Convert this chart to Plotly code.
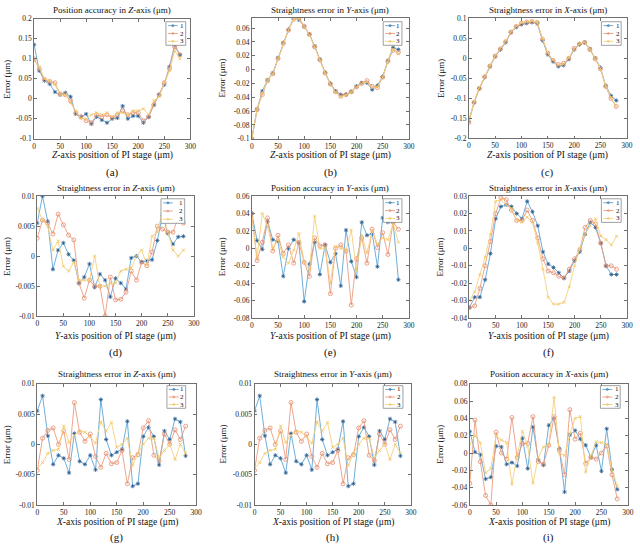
import plotly.graph_objects as go

# ---------------- data ----------------
pos = list(range(0, 290, 10))

# (a) Position accuracy in Z-axis
a1 = [0.135, 0.07, 0.045, 0.037, 0.017, 0.01, 0.015, 0.005, -0.038, -0.045, -0.038, -0.063, -0.045, -0.053, -0.06,
      -0.05, -0.048, -0.018, -0.05, -0.043, -0.043, -0.06, -0.045, -0.015, 0.01, 0.035, 0.08, 0.135, 0.11]
a2 = [0.10, 0.075, 0.048, 0.043, 0.04, 0.012, 0.01, -0.005, -0.035, -0.045, -0.055, -0.06, -0.04, -0.045, -0.04,
      -0.048, -0.04, -0.03, -0.04, -0.035, -0.035, -0.055, -0.045, -0.015, 0.01, 0.04, 0.075, 0.13, 0.11]
a3 = [0.095, 0.08, 0.05, 0.045, 0.035, 0.01, 0.01, -0.01, -0.03, -0.05, -0.05, -0.04, -0.035, -0.04, -0.035,
      -0.045, -0.035, -0.035, -0.04, -0.03, -0.03, -0.025, -0.04, -0.005, 0.005, 0.04, 0.07, 0.12, 0.10]

# (b) Straightness error in Y-axis (Z travel)
b1 = [-0.1, -0.057, -0.031, -0.015, -0.005, 0.017, 0.039, 0.058, 0.075, 0.072, 0.062, 0.051, 0.034, 0.015, -0.004,
      -0.02, -0.031, -0.036, -0.036, -0.032, -0.024, -0.019, -0.019, -0.029, -0.023, -0.01, 0.013, 0.032, 0.029]
b2 = [-0.1, -0.058, -0.036, -0.016, -0.006, 0.016, 0.038, 0.057, 0.073, 0.075, 0.063, 0.051, 0.033, 0.014, -0.005,
      -0.021, -0.032, -0.038, -0.036, -0.032, -0.025, -0.02, -0.016, -0.024, -0.026, -0.011, 0.012, 0.028, 0.025]
b3 = [-0.1, -0.057, -0.034, -0.015, -0.006, 0.016, 0.038, 0.057, 0.074, 0.073, 0.062, 0.05, 0.033, 0.014, -0.005,
      -0.021, -0.033, -0.04, -0.037, -0.033, -0.025, -0.02, -0.018, -0.026, -0.025, -0.011, 0.012, 0.03, 0.023]

# (c) Straightness error in X-axis (Z travel)
c1 = [-0.157, -0.11, -0.075, -0.047, -0.02, 0.005, 0.022, 0.04, 0.065, 0.078, 0.085, 0.088, 0.09, 0.087, 0.045,
      0.01, -0.008, -0.02, -0.017, -0.002, 0.022, 0.035, 0.04, 0.024, 0.001, -0.023, -0.068, -0.093, -0.105]
c2 = [-0.16, -0.11, -0.075, -0.046, -0.019, 0.006, 0.024, 0.042, 0.066, 0.08, 0.088, 0.091, 0.092, 0.09, 0.048,
      0.013, -0.005, -0.015, -0.012, 0.0, 0.025, 0.036, 0.04, 0.022, -0.001, -0.026, -0.07, -0.1, -0.12]
c3 = [-0.158, -0.108, -0.073, -0.045, -0.018, 0.007, 0.025, 0.043, 0.067, 0.08, 0.089, 0.092, 0.093, 0.09, 0.05,
      0.014, -0.004, -0.016, -0.014, 0.001, 0.024, 0.036, 0.041, 0.023, 0.0, -0.025, -0.069, -0.098, -0.12]

# (d) Straightness error in Z-axis (Y travel)
d1 = [0.0055, 0.01, 0.0058, -0.0022, 0.001, 0.0022, 0.0003, -0.0007, -0.0045, -0.0035, -0.0013, -0.0052, -0.003,
      -0.004, -0.0068, -0.0037, -0.0045, -0.0055, -0.0003, 0.0, -0.001, -0.0008, -0.0006, 0.0026, 0.0068, 0.0038,
      0.002, 0.0032, 0.0033]
d2 = [0.003, 0.006, 0.0055, 0.0037, 0.007, 0.0052, 0.0035, 0.0027, -0.0045, -0.007, -0.004, -0.005, -0.005, -0.01,
      -0.0035, -0.0073, -0.0072, -0.006, -0.0025, -0.004, -0.001, -0.0016, 0.0007, 0.005, 0.0045, 0.004, 0.004,
      0.0065, 0.0055]
d3 = [0.008, 0.006, 0.005, 0.001, 0.0025, -0.0017, -0.0025, -0.001, -0.004, -0.004, -0.004, 0.0, -0.005, -0.005,
      -0.0045, -0.0045, -0.0025, -0.0022, -0.002, 0.0, 0.001, -0.0015, 0.0033, 0.004, 0.0075, 0.004, 0.001, 0.0,
      0.001]

# (e) Position accuracy in Y-axis
e1 = [0.04, 0.009, -0.001, 0.031, 0.01, 0.008, -0.032, 0.0, 0.01, 0.006, -0.061, -0.018, 0.007, -0.03, 0.004,
      -0.016, -0.006, -0.043, 0.021, -0.015, -0.033, 0.03, 0.015, 0.017, -0.021, 0.035, 0.03, 0.03, -0.036]
e2 = [0.04, -0.014, 0.007, 0.035, -0.003, 0.015, -0.006, 0.004, -0.017, 0.007, -0.016, -0.032, 0.012, 0.003, 0.004,
      -0.052, 0.0, 0.004, -0.003, -0.065, -0.012, 0.012, -0.017, 0.022, 0.001, 0.018, -0.007, 0.03, 0.022]
e3 = [0.035, -0.01, 0.04, 0.025, 0.0, 0.01, -0.01, -0.017, -0.002, 0.017, -0.015, -0.025, 0.037, 0.0, 0.0, -0.04,
      0.002, 0.0, -0.002, 0.021, -0.025, 0.015, -0.005, 0.02, 0.005, 0.012, 0.01, 0.028, 0.007]

# (f) Straightness error in X-axis (Y travel)
f1 = [-0.034, -0.028, -0.028, -0.018, -0.003, 0.017, 0.024, 0.025, 0.024, 0.02, 0.017, 0.027, 0.021, 0.013, -0.002,
      -0.009, -0.011, -0.014, -0.017, -0.013, -0.007, -0.002, 0.008, 0.015, 0.012, 0.003, -0.01, -0.015, -0.015]
f2 = [-0.034, -0.033, -0.023, -0.01, 0.004, 0.02, 0.029, 0.028, 0.022, 0.016, 0.016, 0.022, 0.016, 0.006, -0.006,
      -0.013, -0.014, -0.016, -0.017, -0.012, -0.006, -0.001, 0.012, 0.016, 0.014, 0.003, -0.01, -0.01, -0.012]
f3 = [-0.03, -0.025, -0.015, -0.005, 0.008, 0.027, 0.028, 0.025, 0.023, 0.016, 0.015, 0.018, 0.015, 0.003, -0.012,
      -0.028, -0.032, -0.032, -0.031, -0.022, -0.01, 0.0, 0.008, 0.013, 0.017, 0.007, 0.005, 0.002, 0.007]

# (g) Straightness error in Z-axis (X travel)
g1 = [0.0055, 0.008, 0.0014, -0.0033, -0.0018, -0.0023, -0.0047, 0.0018, -0.0028, -0.0033, -0.0018, -0.0042,
      0.0074, 0.0008, -0.0018, -0.0013, -0.0008, 0.0038, -0.0069, -0.0065, 0.0013, 0.0028, 0.0013, -0.0034, 0.0022,
      0.0008, 0.0042, 0.0037, -0.0019]
g2 = [-0.0043, 0.001, 0.0023, 0.0027, 0.0, 0.0022, -0.0025, 0.0069, 0.002, 0.0005, 0.0017, -0.002, -0.0038, -0.0015,
      -0.0032, -0.003, -0.001, -0.0065, -0.0022, -0.0017, 0.0027, 0.0039, -0.0018, -0.0027, 0.0017, 0.0, 0.0024,
      0.0008, 0.003]
g3 = [-0.004, -0.003, -0.0015, -0.001, -0.0008, 0.003, 0.0003, 0.0015, 0.0022, 0.002, 0.0012, 0.0002, 0.0037,
      0.0022, 0.0036, -0.0005, 0.0, 0.001, -0.0035, -0.0015, 0.0, 0.001, 0.001, -0.0023, -0.001, 0.0, -0.0025, 0.0,
      -0.0015]

# (h) Straightness error in Y-axis (X travel) -- same curves as (g) in the source
h1 = list(g1)
h2 = list(g2)
h3 = list(g3)

# (i) Position accuracy in X-axis
i1 = [0.025, 0.001, -0.002, -0.03, -0.028, 0.008, 0.007, -0.013, -0.011, -0.015, 0.017, -0.018, 0.03, -0.008, -0.014,
      0.032, 0.04, 0.005, -0.045, 0.021, 0.026, 0.016, 0.009, -0.005, 0.009, -0.021, 0.028, -0.019, -0.042]
i2 = [-0.035, 0.038, -0.01, -0.049, -0.06, 0.024, 0.0, -0.007, 0.041, -0.005, 0.011, 0.011, 0.042, -0.01, -0.013,
      0.009, 0.042, 0.003, -0.025, 0.05, 0.016, 0.023, -0.012, -0.005, -0.007, 0.0, 0.008, -0.025, -0.053]
i3 = [0.01, 0.02, 0.012, -0.023, -0.018, 0.02, 0.015, 0.012, -0.036, -0.002, 0.025, 0.008, -0.035, -0.005, 0.007,
      0.01, 0.064, 0.0, -0.003, 0.022, 0.04, 0.042, -0.022, -0.003, 0.013, 0.012, 0.01, -0.02, -0.038]

series_names = ["1", "2", "3"]
xticks = [0, 50, 100, 150, 200, 250, 300]

ticks_a = [-0.1, -0.05, 0, 0.05, 0.1, 0.15, 0.2]
labels_a = ["-0.1", "-0.05", "0", "0.05", "0.1", "0.15", "0.2"]
ticks_b = [-0.1, -0.08, -0.06, -0.04, -0.02, 0, 0.02, 0.04, 0.06]
labels_b = ["-0.1", "-0.08", "-0.06", "-0.04", "-0.02", "0", "0.02", "0.04", "0.06"]
ticks_c = [-0.2, -0.15, -0.1, -0.05, 0, 0.05, 0.1]
labels_c = ["-0.2", "-0.15", "-0.1", "-0.05", "0", "0.05", "0.1"]
ticks_small = [-0.01, -0.005, 0, 0.005, 0.01]
labels_small = ["-0.01", "-0.005", "0", "0.005", "0.01"]
ticks_e = [-0.08, -0.06, -0.04, -0.02, 0, 0.02, 0.04, 0.06]
labels_e = ["-0.08", "-0.06", "-0.04", "-0.02", "0", "0.02", "0.04", "0.06"]
ticks_f = [-0.04, -0.03, -0.02, -0.01, 0, 0.01, 0.02, 0.03]
labels_f = ["-0.04", "-0.03", "-0.02", "-0.01", "0", "0.01", "0.02", "0.03"]
ticks_i = [-0.06, -0.04, -0.02, 0, 0.02, 0.04, 0.06, 0.08]
labels_i = ["-0.06", "-0.04", "-0.02", "0", "0.02", "0.04", "0.06", "0.08"]

panels = [
    dict(tag="(a)", title="Position accuracy in <i>Z</i>-axis (μm)", xt="<i>Z</i>-axis position of PI stage (μm)",
         s=(a1, a2, a3), yr=[-0.1, 0.2], tv=ticks_a, tt=labels_a),
    dict(tag="(b)", title="Straightness error in <i>Y</i>-axis (μm)", xt="<i>Z</i>-axis position of PI stage (μm)",
         s=(b1, b2, b3), yr=[-0.1, 0.075], tv=ticks_b, tt=labels_b),
    dict(tag="(c)", title="Straightness error in <i>X</i>-axis (μm)", xt="<i>Z</i>-axis position of PI stage (μm)",
         s=(c1, c2, c3), yr=[-0.2, 0.1], tv=ticks_c, tt=labels_c),
    dict(tag="(d)", title="Straightness error in <i>Z</i>-axis (μm)", xt="<i>Y</i>-axis position of PI stage (μm)",
         s=(d1, d2, d3), yr=[-0.01, 0.01], tv=ticks_small, tt=labels_small),
    dict(tag="(e)", title="Position accuracy in <i>Y</i>-axis (μm)", xt="<i>Y</i>-axis position of PI stage (μm)",
         s=(e1, e2, e3), yr=[-0.08, 0.06], tv=ticks_e, tt=labels_e),
    dict(tag="(f)", title="Straightness error in <i>X</i>-axis (μm)", xt="<i>Y</i>-axis position of PI stage (μm)",
         s=(f1, f2, f3), yr=[-0.04, 0.03], tv=ticks_f, tt=labels_f),
    dict(tag="(g)", title="Straightness error in <i>Z</i>-axis (μm)", xt="<i>X</i>-axis position of PI stage (μm)",
         s=(g1, g2, g3), yr=[-0.01, 0.01], tv=ticks_small, tt=labels_small),
    dict(tag="(h)", title="Straightness error in <i>Y</i>-axis (μm)", xt="<i>X</i>-axis position of PI stage (μm)",
         s=(h1, h2, h3), yr=[-0.01, 0.01], tv=ticks_small, tt=labels_small),
    dict(tag="(i)", title="Position accuracy in <i>X</i>-axis (μm)", xt="<i>X</i>-axis position of PI stage (μm)",
         s=(i1, i2, i3), yr=[-0.06, 0.08], tv=ticks_i, tt=labels_i),
]

# ---------------- layout (pixels) ----------------
W, H = 640, 551
boxes = [  # x0, y0(top), x1, y1(bottom)
    (32.5, 15, 190.7, 137), (253, 14, 412, 137), (472.7, 14.7, 632.7, 136.7),
    (35.7, 195.3, 194.3, 317.3), (253, 195.3, 412, 319.3), (473.3, 195.3, 633, 319.3),
    (35.7, 386, 196.7, 509.3), (255.7, 386, 414, 509.3), (473.7, 386, 633.7, 509.3),
]
title_y = [6, 6, 6, 187, 187, 187, 376, 376, 376]
xtitle_y = [154, 154, 154, 338, 338, 338, 527, 527, 527]
ytitle_x = [5, 223, 445, 5, 223, 444, 5, 224, 444]
tag_y = [171, 171, 171, 354, 354, 354, 542, 542, 542]
legend_boxes = [
    (166, 18, 186, 42), (386, 18, 405, 42), (607, 18, 627, 42),
    (161, 198, 185, 223), (386, 198, 405, 222), (607, 198, 627, 222),
    (167, 388, 186, 411), (386, 388, 406, 411), (606, 388, 626, 411),
]

line_colors = ["#5fa6d4", "#ec9c80", "#f5d07a"]
marker_colors = ["#2a5d8f", "#e48a6a", "#f0c25a"]
symbols = ["asterisk-open", "circle-open", "x-thin-open"]
msizes = [3.5, 4, 3]

FONT = "Liberation Serif"

def px(xp):
    return xp / W

def py(yp):
    return 1 - yp / H

fig = go.Figure()
annotations = []
shapes = []
layout = {}

for k, p in enumerate(panels):
    n = k + 1
    xa = "x" if n == 1 else f"x{n}"
    ya = "y" if n == 1 else f"y{n}"
    for j in range(3):
        fig.add_trace(go.Scatter(
            x=pos, y=p["s"][j], mode="lines+markers", name=series_names[j],
            xaxis=xa, yaxis=ya, showlegend=False,
            line=dict(color=line_colors[j], width=0.9),
            marker=dict(symbol=symbols[j], size=msizes[j], color=marker_colors[j],
                        line=dict(width=0.8, color=marker_colors[j])),
        ))
    x0, y0, x1, y1 = boxes[k]
    axis_common = dict(showline=True, mirror="ticks", linecolor="#707070", linewidth=0.8,
                       ticks="inside", ticklen=3, tickcolor="#707070", tickwidth=0.8,
                       showgrid=False, zeroline=False,
                       tickfont=dict(family=FONT, size=7.5, color="#222"))
    layout[f"xaxis{n}"] = dict(domain=[px(x0), px(x1)], anchor=ya, range=[0, 300],
                               tickvals=xticks, ticktext=[str(t) for t in xticks], **axis_common)
    layout[f"yaxis{n}"] = dict(domain=[py(y1), py(y0)], anchor=xa, range=p["yr"],
                               tickvals=p["tv"], ticktext=p["tt"], **axis_common)
    cx = px((x0 + x1) / 2)
    annotations.append(dict(text=p["title"], x=cx, y=py(title_y[k]), xref="paper", yref="paper",
                            showarrow=False, xanchor="center", yanchor="middle",
                            font=dict(family=FONT, size=9, color="#111")))
    annotations.append(dict(text=p["xt"], x=cx, y=py(xtitle_y[k]), xref="paper", yref="paper",
                            showarrow=False, xanchor="center", yanchor="middle",
                            font=dict(family=FONT, size=9.5, color="#111")))
    annotations.append(dict(text="Error (μm)", x=px(ytitle_x[k]), y=py((y0 + y1) / 2), xref="paper",
                            yref="paper", showarrow=False, textangle=-90, xanchor="center",
                            yanchor="middle", font=dict(family=FONT, size=9, color="#111")))
    annotations.append(dict(text=p["tag"], x=cx, y=py(tag_y[k]), xref="paper", yref="paper",
                            showarrow=False, xanchor="center", yanchor="middle",
                            font=dict(family=FONT, size=11, color="#111")))
    # legend box
    lx0, ly0, lx1, ly1 = legend_boxes[k]
    shapes.append(dict(type="rect", xref="paper", yref="paper", x0=px(lx0), x1=px(lx1),
                       y0=py(ly1), y1=py(ly0), line=dict(color="#888", width=0.8),
                       fillcolor="white", layer="above"))
    step = (ly1 - ly0) / 3
    for j in range(3):
        yy = ly0 + step * (j + 0.5)
        shapes.append(dict(type="line", xref="paper", yref="paper", x0=px(lx0 + 2), x1=px(lx0 + 12),
                           y0=py(yy), y1=py(yy), line=dict(color=line_colors[j], width=0.9), layer="above"))
        shapes.append(dict(type="circle", xref="paper", yref="paper", x0=px(lx0 + 6), x1=px(lx0 + 8),
                           y0=py(yy + 1), y1=py(yy - 1),
                           line=dict(color=marker_colors[j], width=0.7), layer="above"))
        annotations.append(dict(text=series_names[j], x=px(lx1 - 3.5), y=py(yy), xref="paper", yref="paper",
                                showarrow=False, xanchor="center", yanchor="middle",
                                font=dict(family=FONT, size=7, color="#111")))

fig.update_layout(
    width=W, height=H, margin=dict(l=0, r=0, t=0, b=0),
    paper_bgcolor="white", plot_bgcolor="white",
    annotations=annotations, shapes=shapes, showlegend=False,
    **layout,
)

fig.write_html("out.html")
